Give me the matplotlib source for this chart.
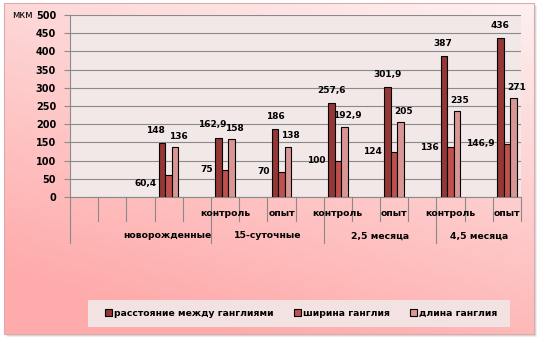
import numpy as np
import matplotlib.pyplot as plt
from matplotlib.patches import Rectangle

W, H = 538, 337

# values, one group of three bars per age / experiment slot
slots = [3, 5, 7, 9, 11, 13, 15]
distance = [148, 162.9, 186, 257.6, 301.9, 387, 436]
gang_width = [60.4, 75, 70, 100, 124, 136, 146.9]
gang_length = [136, 158, 138, 192.9, 205, 235, 271]

series_names = ['расстояние между ганглиями', 'ширина ганглия', 'длина ганглия']
series_colors = ['#953735', '#c0504d', '#d99694']

sub_labels = ['контроль', 'опыт', 'контроль', 'опыт', 'контроль', 'опыт']
sub_slots = [5, 7, 9, 11, 13, 15]
age_labels = ['новорожденные', '15-суточные', '2,5 месяца', '4,5 месяца']
age_pos = [3.45, 7, 11, 14.5]
long_ticks = [0, 5, 9, 13]

n_slots = 16
yticks = list(range(0, 501, 50))


def fmt(v):
    return f'{v:g}'.replace('.', ',')


def fx(x):
    return x / W


def fy(y):
    return 1 - y / H


plt.rcParams['font.family'] = 'DejaVu Sans'
fig = plt.figure(figsize=(W / 100, H / 100), dpi=100)
fig.patch.set_facecolor('white')

# chart area in pixel coordinates: soft shadow, pink gradient, thin border
bg = fig.add_axes([0, 0, 1, 1], zorder=0)
bg.set_xlim(0, W)
bg.set_ylim(H, 0)
bg.axis('off')
for k, a in [(3, 0.10), (2, 0.15), (1, 0.22)]:
    bg.add_patch(Rectangle((4 + k, 3 + k), 530, 331, facecolor='#606060',
                           edgecolor='none', alpha=a, zorder=0))
yy, xx = np.mgrid[0:1:200j, 0:1:300j]
t = np.clip(0.8 * yy + 0.35 * (1 - xx), 0, 1)[..., None]
light = np.array([253, 240, 240]) / 255
dark = np.array([255, 171, 171]) / 255
bg.imshow(light * (1 - t) + dark * t, aspect='auto', extent=(4, 534, 334, 3),
          zorder=1)
bg.add_patch(Rectangle((4, 3), 530, 331, facecolor='none', edgecolor='#dcaaaa',
                       lw=0.8, zorder=2))
# legend box
bg.add_patch(Rectangle((88, 300), 422, 27, facecolor='#f2e2e2',
                       edgecolor='none', zorder=2))
bg.text(22, 15, 'мкм', ha='center', va='center', fontsize=7, zorder=3)

ax = fig.add_axes([fx(70), fy(197), fx(521 - 70), (197 - 15) / H], zorder=2)
ax.set_facecolor('#f2e8e8')
ax.set_xlim(0, n_slots)
ax.set_ylim(0, 500)
ax.set_yticks(yticks)
ax.yaxis.grid(True, color='#8a8a8a', lw=0.8)
ax.set_axisbelow(True)
ax.set_xticks([])
for s in ['top', 'right']:
    ax.spines[s].set_visible(False)
for s in ['left', 'bottom']:
    ax.spines[s].set_color('#8a8a8a')
    ax.spines[s].set_linewidth(0.8)
ax.tick_params(axis='y', length=4, color='#8a8a8a', pad=6, labelsize=7)
for lab in ax.get_yticklabels():
    lab.set_fontweight('bold')

bw = 0.23
centers = np.array(slots) + 0.5
values = [distance, gang_width, gang_length]
for i, (vals, col) in enumerate(zip(values, series_colors)):
    ax.bar(centers + (i - 1) * bw, vals, width=bw, color=col,
           edgecolor='black', lw=0.8, zorder=3, label=series_names[i])

# data labels, offsets in pixels
nudge1 = [-7, -6, 0, 0, 0, -1, 0]
for j, c in enumerate(centers):
    ax.annotate(fmt(distance[j]), (c - bw, distance[j]), xytext=(nudge1[j], 13),
                textcoords='offset pixels', ha='center', va='center',
                fontsize=6.5, fontweight='bold')
    dy = -8 if j == 0 else 0
    ax.annotate(fmt(gang_width[j]), (c, gang_width[j]), xytext=(-12, dy),
                textcoords='offset pixels', ha='right', va='center',
                fontsize=6.5, fontweight='bold')
    ax.annotate(fmt(gang_length[j]), (c + bw, gang_length[j]), xytext=(3, 11),
                textcoords='offset pixels', ha='center', va='center',
                fontsize=6.5, fontweight='bold')

# two-level category axis
tr = ax.get_xaxis_transform()
short_y = -(221 - 197) / 182
long_y = -(243 - 197) / 182
for k in range(n_slots + 1):
    y1 = long_y if k in long_ticks else short_y
    ax.plot([k, k], [0, y1], color='#8a8a8a', lw=0.8, transform=tr,
            clip_on=False)
for s, lab in zip(sub_slots, sub_labels):
    ax.text(s + 0.5, -(213 - 197) / 182, lab, transform=tr, ha='center',
            va='center', fontsize=6.7, fontweight='bold')
for p, lab in zip(age_pos, age_labels):
    ax.text(p, -(236 - 197) / 182, lab, transform=tr, ha='center',
            va='center', fontsize=6.7, fontweight='bold')

handles, labels = ax.get_legend_handles_labels()
leg = fig.legend(handles, labels, loc='center', bbox_to_anchor=(fx(301), fy(313)),
                 ncol=3, frameon=False, handlelength=0.75, handleheight=0.75,
                 handletextpad=0.2, columnspacing=2.2,
                 prop={'size': 6.7, 'weight': 'bold'})
leg.set_zorder(4)

fig.savefig('out.png', dpi=100, facecolor='white')
